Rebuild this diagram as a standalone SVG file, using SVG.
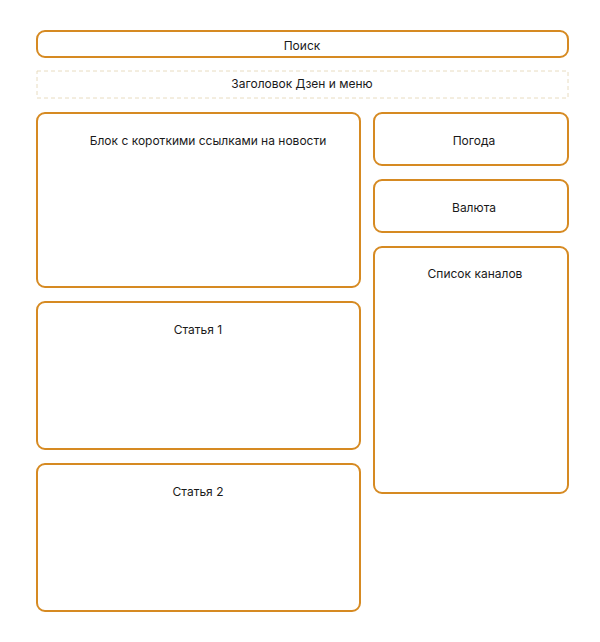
<svg xmlns="http://www.w3.org/2000/svg" width="600" height="642" viewBox="0 0 600 642">
<style>
.box{fill:#ffffff;stroke:#d68a22;stroke-width:2}
.dash{fill:#ffffff;stroke:#e8dcc0;stroke-width:1;stroke-dasharray:4 3}
text{font-family:Inter,"Noto Sans",sans-serif;font-size:12px;fill:#1a1a1a;text-anchor:middle;dominant-baseline:central}
</style>
<rect width="600" height="642" fill="#ffffff"/>
<g id="search"><rect class="box" x="37" y="31" width="531" height="26" rx="8"/><text x="302" y="45">Поиск</text></g>
<g id="header"><rect class="dash" x="37" y="71" width="531" height="27"/><text x="302" y="83">Заголовок Дзен и меню</text></g>
<g id="links"><rect class="box" x="37" y="113" width="323" height="174" rx="8"/><text x="208" y="140">Блок с короткими ссылками на новости</text></g>
<g id="article1"><rect class="box" x="37" y="302" width="323" height="147" rx="8"/><text x="198" y="329">Статья 1</text></g>
<g id="article2"><rect class="box" x="37" y="464" width="323" height="147" rx="8"/><text x="198" y="491">Статья 2</text></g>
<g id="weather"><rect class="box" x="374" y="113" width="194" height="52" rx="8"/><text x="474" y="140">Погода</text></g>
<g id="currency"><rect class="box" x="374" y="180" width="194" height="52" rx="8"/><text x="474" y="207">Валюта</text></g>
<g id="channels"><rect class="box" x="374" y="247" width="194" height="246" rx="8"/><text x="475" y="273">Список каналов</text></g>
<g id="connectors"></g>
</svg>
